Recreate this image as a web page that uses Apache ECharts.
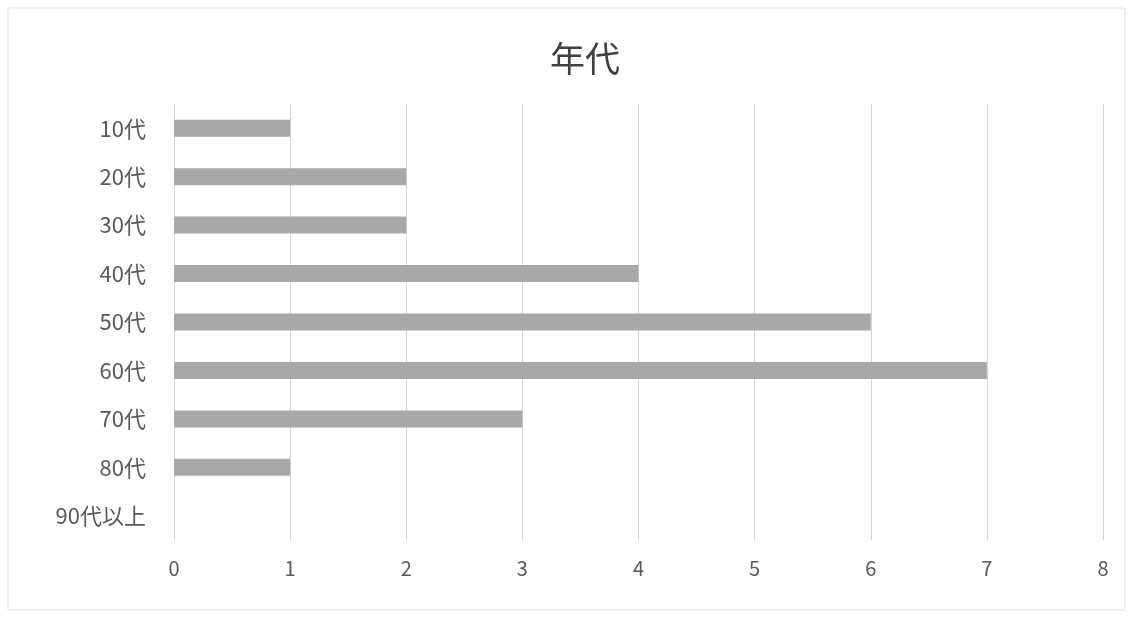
<!DOCTYPE html>
<html><head><meta charset="utf-8">
<script src="https://cdn.jsdelivr.net/npm/echarts@6/dist/echarts.min.js"></script>
<style>html,body{margin:0;padding:0;background:#fff}#c{width:1131px;height:618px}</style>
</head><body><div id="c"></div>
<script>
const categories = ['10代','20代','30代','40代','50代','60代','70代','80代','90代以上'];
const counts = [1,2,2,4,6,7,3,1,0];
const titleText = '年代';
const FONT = '"Noto Sans CJK JP", "Noto Sans", sans-serif';
const chart = echarts.init(document.getElementById('c'));
chart.setOption({
  backgroundColor:'#fff',
  animation:false,
  title:{text:titleText,left:580,top:36,textAlign:'center',textStyle:{fontFamily:FONT,fontSize:35,fontWeight:'normal',color:'#404040'}},
  graphic:[{type:'rect',shape:{x:8,y:8,width:1117,height:602},style:{fill:'none',stroke:'#e2e2e2',lineWidth:1}}],
  grid:{left:174,right:28,top:104,bottom:78,containLabel:false},
  xAxis:{type:'value',min:0,max:8,interval:1,
    axisLine:{show:false},axisTick:{show:false},
    axisLabel:{fontFamily:FONT,fontSize:20,color:'#595959',margin:18},
    splitLine:{show:true,lineStyle:{color:'#d4d4d4',width:1}}},
  yAxis:{type:'category',data:categories,inverse:true,
    axisLine:{show:false},axisTick:{show:false},
    axisLabel:{fontFamily:FONT,fontSize:22,color:'#595959',margin:28},
    splitLine:{show:false}},
  series:[{type:'bar',data:counts,barWidth:17,itemStyle:{color:'#a8a8a8'}}]
});
</script></body></html>
